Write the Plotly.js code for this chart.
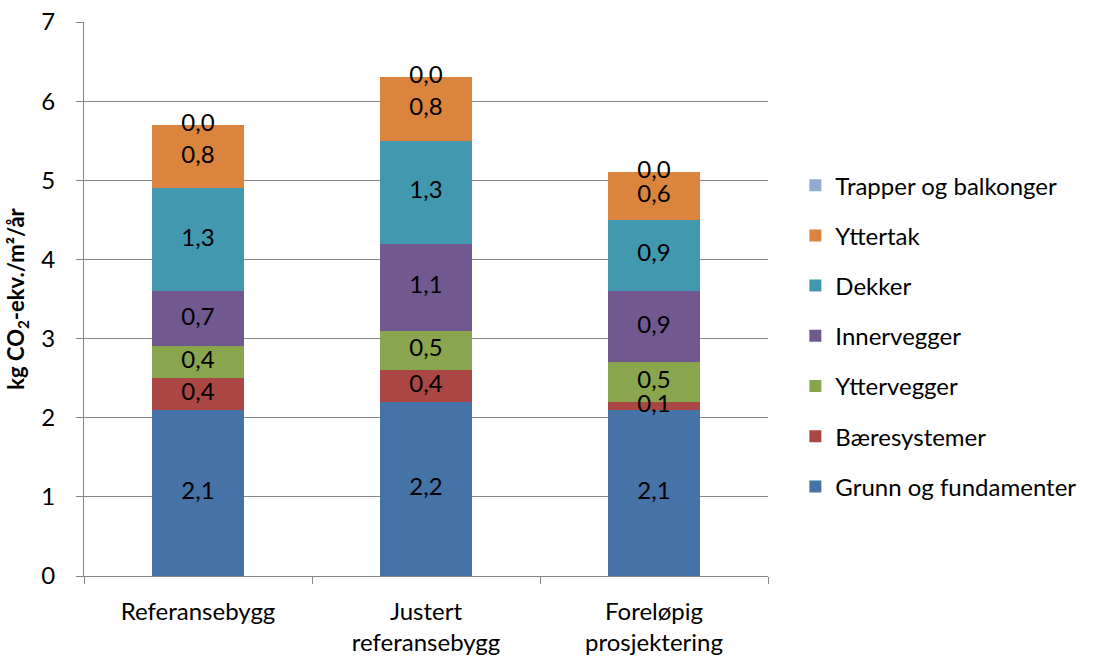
<!DOCTYPE html>
<html>
<head>
<meta charset="utf-8">
<script src="https://cdn.plot.ly/plotly-3.0.1.min.js"></script>
<style>
  html, body { margin: 0; padding: 0; background: #fff; }
  #chart { width: 1098px; height: 658px; }
</style>
</head>
<body>
<div id="chart"></div>
<script>
// Building variants on the x axis
const categories = ['Referansebygg', 'Justert<br>referansebygg', 'Foreløpig<br>prosjektering'];

// Emissions per building part, kg CO2-ekv./m²/år (bottom to top of each stack)
const seriesNames = ['Grunn og fundamenter', 'Bæresystemer', 'Yttervegger', 'Innervegger', 'Dekker', 'Yttertak', 'Trapper og balkonger'];
const grunn = [2.1, 2.2, 2.1];
const baere = [0.4, 0.4, 0.1];
const yttervegger = [0.4, 0.5, 0.5];
const innervegger = [0.7, 1.1, 0.9];
const dekker = [1.3, 1.3, 0.9];
const yttertak = [0.8, 0.8, 0.6];
const trapper = [0.0, 0.0, 0.0];

const seriesValues = [grunn, baere, yttervegger, innervegger, dekker, yttertak, trapper];
const colors = ['#4572A7', '#AA4643', '#89A54E', '#71588F', '#4198AF', '#DB843D', '#93A9CF'];

const fontFamily = 'Lato, "Open Sans", sans-serif';
const fontSize = 24;
const fmt = v => v.toFixed(1).replace('.', ',');

const traces = [];
const base = categories.map(() => 0);
const labelX = [], labelY = [], labelText = [];

seriesValues.forEach((vals, i) => {
  traces.push({
    type: 'bar',
    name: seriesNames[i],
    x: categories,
    y: vals,
    marker: { color: colors[i], line: { width: 0 } },
    legendgroup: 'g' + i,
    legendrank: seriesValues.length - i,
    hoverinfo: 'skip'
  });
  vals.forEach((v, j) => {
    labelX.push(categories[j]);
    labelY.push(base[j] + v / 2);
    labelText.push(fmt(v));
    base[j] += v;
  });
});

// Value labels centred on each segment
traces.push({
  type: 'scatter',
  mode: 'text',
  x: labelX,
  y: labelY,
  text: labelText,
  textposition: 'middle center',
  textfont: { family: fontFamily, size: fontSize, color: '#000' },
  showlegend: false,
  hoverinfo: 'skip',
  cliponaxis: false
});

const layout = {
  width: 1098,
  height: 658,
  margin: { l: 84, r: 330, t: 22, b: 82 },
  paper_bgcolor: '#fff',
  plot_bgcolor: '#fff',
  barmode: 'stack',
  bargap: 0.6,
  font: { family: fontFamily, size: fontSize, color: '#000' },
  xaxis: {
    type: 'category',
    showline: true,
    linecolor: '#868686',
    linewidth: 1,
    ticks: 'outside',
    tickson: 'boundaries',
    ticklen: 7,
    tickcolor: '#868686',
    ticklabelstandoff: 14,
    showgrid: false,
    tickfont: { family: fontFamily, size: fontSize, color: '#000' }
  },
  yaxis: {
    range: [0, 7],
    dtick: 1,
    showline: true,
    linecolor: '#868686',
    linewidth: 1,
    ticks: 'outside',
    ticklen: 7,
    tickcolor: '#868686',
    ticklabelstandoff: 16,
    showgrid: true,
    gridcolor: '#868686',
    gridwidth: 1,
    zeroline: false,
    tickfont: { family: fontFamily, size: fontSize, color: '#000' },
    title: {
      text: '<b>kg CO<sub>2</sub>-ekv./m²/år</b>',
      font: { family: fontFamily, size: 22, color: '#000' },
      standoff: 10
    }
  },
  legend: {
    x: 1.04,
    xanchor: 'left',
    y: 0.433,
    yanchor: 'middle',
    traceorder: 'grouped',
    tracegroupgap: 16,
    font: { family: fontFamily, size: fontSize, color: '#000' },
    itemwidth: 30
  },
  showlegend: true
};

Plotly.newPlot('chart', traces, layout, { staticPlot: true });
</script>
</body>
</html>
